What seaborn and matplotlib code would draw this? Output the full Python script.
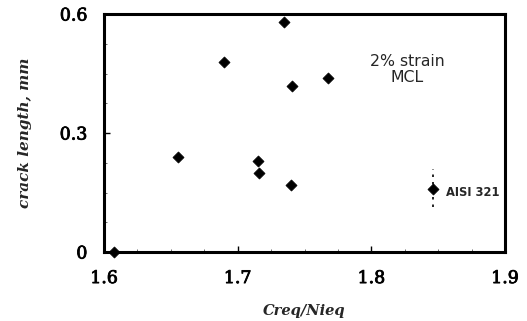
import matplotlib
matplotlib.use("Agg")
import matplotlib.pyplot as plt
import matplotlib.patheffects as pe
import seaborn as sns
import pandas as pd
from matplotlib.ticker import MultipleLocator

# data
creq_nieq = [1.6075, 1.6554, 1.6898, 1.7347, 1.7152, 1.7160, 1.7400, 1.7406, 1.7676]
crack_len = [0.000, 0.239, 0.479, 0.580, 0.229, 0.199, 0.169, 0.418, 0.439]
aisi_x = [1.846]
aisi_y = [0.159]
aisi_range = [0.113, 0.210]
x_ticks = [1.6, 1.7, 1.8, 1.9]
x_ticklabels = ["1.6", "1.7", "1.8", "1.9"]
y_ticks = [0.0, 0.3, 0.6]
y_ticklabels = ["0", "0.3", "0.6"]

sns.set_style("ticks")
plt.rcParams['font.family'] = ['DejaVu Sans']

df = pd.DataFrame({"x": creq_nieq, "y": crack_len})
df_aisi = pd.DataFrame({"x": aisi_x, "y": aisi_y})

fig = plt.figure(figsize=(5.27, 3.21), dpi=100)
ax = fig.add_axes([104/527, 1-252/321, (505-104)/527, (252-14)/321])

ax.vlines(aisi_x, aisi_range[0], aisi_range[1], colors="black",
          linestyles=(0, (1.5, 3)), linewidth=1.2)
sns.scatterplot(data=df, x="x", y="y", marker="D", s=32, color="black",
                edgecolor="black", linewidth=0.5, ax=ax, clip_on=False, zorder=5)
sns.scatterplot(data=df_aisi, x="x", y="y", marker="D", s=32, color="black",
                edgecolor="black", linewidth=0.5, ax=ax, zorder=5)

ax.set_xlim(1.6, 1.9)
ax.set_ylim(0, 0.6)
ax.set_xticks(x_ticks)
ax.set_xticklabels(x_ticklabels)
ax.set_yticks(y_ticks)
ax.set_yticklabels(y_ticklabels)
ax.xaxis.set_minor_locator(MultipleLocator(0.025))
ax.yaxis.set_minor_locator(MultipleLocator(0.075))

for sp in ax.spines.values():
    sp.set_visible(True)
    sp.set_linewidth(2.2)
    sp.set_color("black")

ax.tick_params(axis="both", which="major", direction="in", length=4, width=1,
               colors="black")
ax.tick_params(axis="both", which="minor", direction="in", length=2, width=0.6,
               colors="#555555")
thick = [pe.withStroke(linewidth=0.6, foreground="black")]
for lab in ax.get_xticklabels() + ax.get_yticklabels():
    lab.set_family("DejaVu Serif")
    lab.set_fontsize(12.5)
    lab.set_path_effects(thick)
ax.tick_params(axis="x", pad=13)
ax.tick_params(axis="y", pad=12)

ax.set_xlabel("Creq/Nieq", family="DejaVu Serif", style="italic",
              weight="bold", fontsize=10.5, labelpad=12)
ax.set_ylabel("crack length, mm", family="DejaVu Serif", style="italic",
              weight="bold", fontsize=11, labelpad=20)

ax.text(1.827, 0.46, "2% strain\nMCL", ha="center", va="center",
        fontsize=11.3, linespacing=1.15, family="DejaVu Sans")
ax.text(1.856, 0.149, "AISI 321", ha="left", va="center", fontsize=8.3,
        weight="bold", family="DejaVu Sans")

fig.savefig("out.png", dpi=100, facecolor="white")
